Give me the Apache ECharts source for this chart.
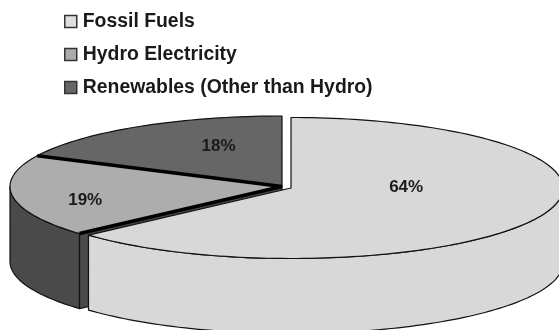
<!DOCTYPE html>
<html>
<head>
<meta charset="utf-8">
<style>html,body{margin:0;padding:0;background:#fff}#chart{width:559px;height:330px}</style>
<script src="https://cdn.jsdelivr.net/npm/echarts@6/dist/echarts.min.js"></script>
</head>
<body>
<div id="chart"></div>
<script>
// Energy sources, in percent
const categories = ['Fossil Fuels', 'Hydro Electricity', 'Renewables (Other than Hydro)'];
const shares = [64, 19, 18];

// Appearance of each slice
const topColors = ['#d8d8d8', '#adadad', '#666666'];
const sideColors = ['#d8d8d8', '#4a4a4a', '#4a4a4a'];
const legendColors = ['#dedede', '#ababab', '#666666'];
const edgeWidths = [0, 3.6, 1];

// Pie layout: tilted disc centre, radii, rim depth
const CX = 286.5, CY = 187.5, RX = 272, RY = 70.5, DEPTH = 75;
const explode = [[4.5, 0.5], [-4.5, -1], [-4.5, -1]];
// Percent label centres as fractions of the radii
const labelPos = [[0.44, 0], [-0.74, 0.18], [-0.25, -0.59]];

const total = shares.reduce((a, b) => a + b, 0);
const rad = d => d * Math.PI / 180;

function startAngle(i) {
  let acc = 0;
  for (let k = 0; k < i; k++) acc += shares[k];
  return acc / total * 360;
}

// Arc on the ellipse, angles clockwise from twelve o'clock
function arc(cx, cy, a0, a1, dy) {
  const pts = [];
  const n = Math.max(2, Math.ceil(Math.abs(a1 - a0) / 1.5));
  for (let j = 0; j <= n; j++) {
    const a = rad(a0 + (a1 - a0) * j / n);
    pts.push([cx + RX * Math.sin(a), cy - RY * Math.cos(a) + dy]);
  }
  return pts;
}

function renderSlice(i) {
  return function (params, api) {
    const value = api.value(0);
    const a0 = startAngle(i);
    const a1 = a0 + value / total * 360;
    const cx = CX + explode[i][0], cy = CY + explode[i][1];
    const edge = { stroke: '#111', lineWidth: 1.2, lineJoin: 'round' };
    const children = [];

    // Cut wall facing the viewer at the start of the slice
    if (a0 > 180 && a0 < 270) {
      const p = arc(cx, cy, a0, a0, 0)[0];
      children.push({
        type: 'polygon',
        shape: { points: [[cx, cy], p, [p[0], p[1] + DEPTH], [cx, cy + DEPTH]] },
        style: { fill: sideColors[i], ...edge }
      });
    }

    // Outer rim on the near half of the disc
    const r0 = Math.max(a0, 90), r1 = Math.min(a1, 270);
    if (r1 > r0) {
      children.push({
        type: 'polygon',
        shape: { points: arc(cx, cy, r0, r1, 0).concat(arc(cx, cy, r1, r0, DEPTH)) },
        style: { fill: sideColors[i], ...edge }
      });
    }

    // Top face
    children.push({
      type: 'polygon',
      shape: { points: [[cx, cy]].concat(arc(cx, cy, a0, a1, 0)) },
      style: { fill: topColors[i], ...edge }
    });

    // Heavy radial dividers
    if (edgeWidths[i] > 1) {
      [a0, a1].forEach(a => {
        const p = arc(cx, cy, a, a, 0)[0];
        children.push({
          type: 'line',
          shape: { x1: cx, y1: cy, x2: p[0], y2: p[1] },
          style: { stroke: '#000', lineWidth: edgeWidths[i] }
        });
      });
    }

    // Percent label
    children.push({
      type: 'text',
      z2: 10,
      style: {
        x: CX + labelPos[i][0] * RX,
        y: CY + labelPos[i][1] * RY,
        text: value + '%',
        fill: '#1a1a1a',
        font: 'bold 17px "Liberation Sans", Arial, sans-serif',
        align: 'center',
        verticalAlign: 'middle'
      }
    });
    return { type: 'group', children };
  };
}

// Back-to-front paint order
const paintOrder = [2, 1, 0];

const chart = echarts.init(document.getElementById('chart'), null, { renderer: 'canvas' });
chart.setOption({
  backgroundColor: '#fff',
  animation: false,
  legend: {
    orient: 'vertical',
    left: 59,
    top: 7,
    itemWidth: 12,
    itemHeight: 12,
    itemGap: 14,
    selectedMode: false,
    textStyle: {
      color: '#1a1a1a',
      fontFamily: '"Liberation Sans", Arial, sans-serif',
      fontWeight: 'bold',
      fontSize: 19.4,
      padding: [0, 0, 0, 1]
    },
    data: categories.map((name, i) => ({
      name,
      icon: 'rect',
      itemStyle: { color: legendColors[i], borderColor: '#333', borderWidth: 1.5 }
    }))
  },
  series: paintOrder.map(i => ({
    type: 'custom',
    name: categories[i],
    coordinateSystem: 'none',
    silent: true,
    data: [[shares[i]]],
    renderItem: renderSlice(i)
  }))
});
</script>
</body>
</html>
